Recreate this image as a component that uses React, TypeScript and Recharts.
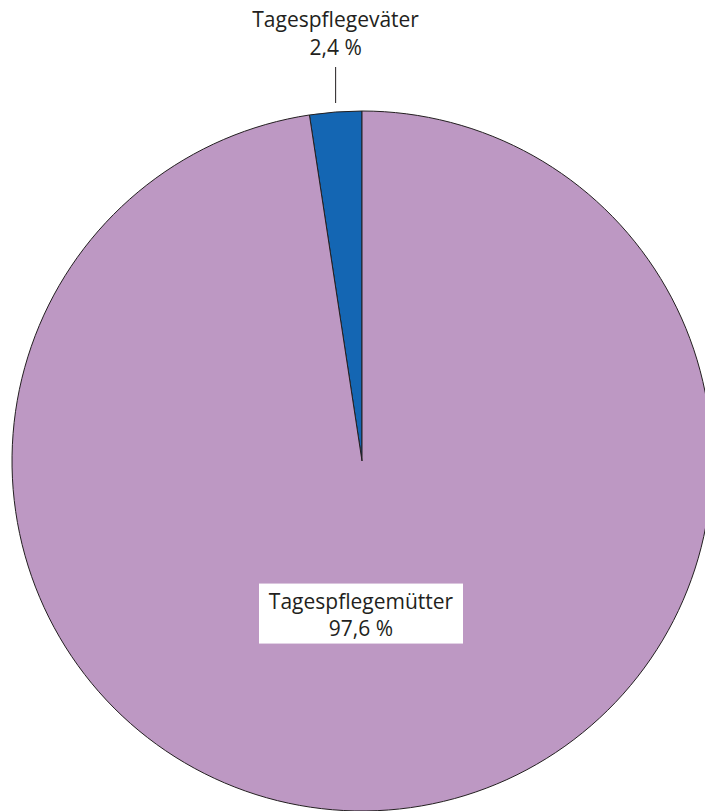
import { PieChart, Pie, Cell } from "recharts"

const names = ["Tagespflegeväter", "Tagespflegemütter"]
const shares = [2.4, 97.6]
const colors = ["#1466B3", "#BD98C3"]

const data = names.map((name, i) => ({ name, value: shares[i] }))

const RAD = Math.PI / 180
const fmt = (v: number) => v.toFixed(1).replace(".", ",") + " %"

function renderLabel(props: any) {
  const { cx, cy, midAngle, outerRadius, index, name, value } = props
  const cos = Math.cos(-midAngle * RAD)
  const sin = Math.sin(-midAngle * RAD)
  const textStyle = { fontFamily: "'Open Sans', sans-serif", fontSize: 21, fill: "#231F20" }

  if (index === 0) {
    // small slice: label above with a short leader line
    const x = cx + outerRadius * cos
    return (
      <g>
        <line x1={x} y1={cy - outerRadius - 8} x2={x} y2={cy - outerRadius - 44} stroke="#231F20" strokeWidth={1} />
        <text x={x} y={cy - outerRadius - 84} textAnchor="middle" {...textStyle}>{name}</text>
        <text x={x} y={cy - outerRadius - 56} textAnchor="middle" {...textStyle}>{fmt(value)}</text>
      </g>
    )
  }

  // big slice: boxed label centred below the middle
  const x = cx - 1
  const y = cy + outerRadius * 0.44 * sin
  return (
    <g>
      <rect x={x - 102} y={y - 31} width={204} height={60} fill="#FFFFFF" />
      <text x={x} y={y - 6} textAnchor="middle" {...textStyle}>{name}</text>
      <text x={x} y={y + 21} textAnchor="middle" {...textStyle}>{fmt(value)}</text>
    </g>
  )
}

export default function App() {
  return (
    <div style={{ position: "absolute", left: 0, top: 0, width: 705, height: 811, background: "#fff" }}>
      <PieChart width={705} height={811} margin={{ top: 0, right: 0, bottom: 0, left: 0 }}>
        <Pie
          data={data}
          dataKey="value"
          nameKey="name"
          cx={362}
          cy={461}
          outerRadius={350}
          startAngle={90}
          endAngle={450}
          stroke="#231F20"
          strokeWidth={1}
          label={renderLabel}
          labelLine={false}
          isAnimationActive={false}
        >
          {data.map((d, i) => (
            <Cell key={d.name} fill={colors[i]} />
          ))}
        </Pie>
      </PieChart>
    </div>
  )
}
